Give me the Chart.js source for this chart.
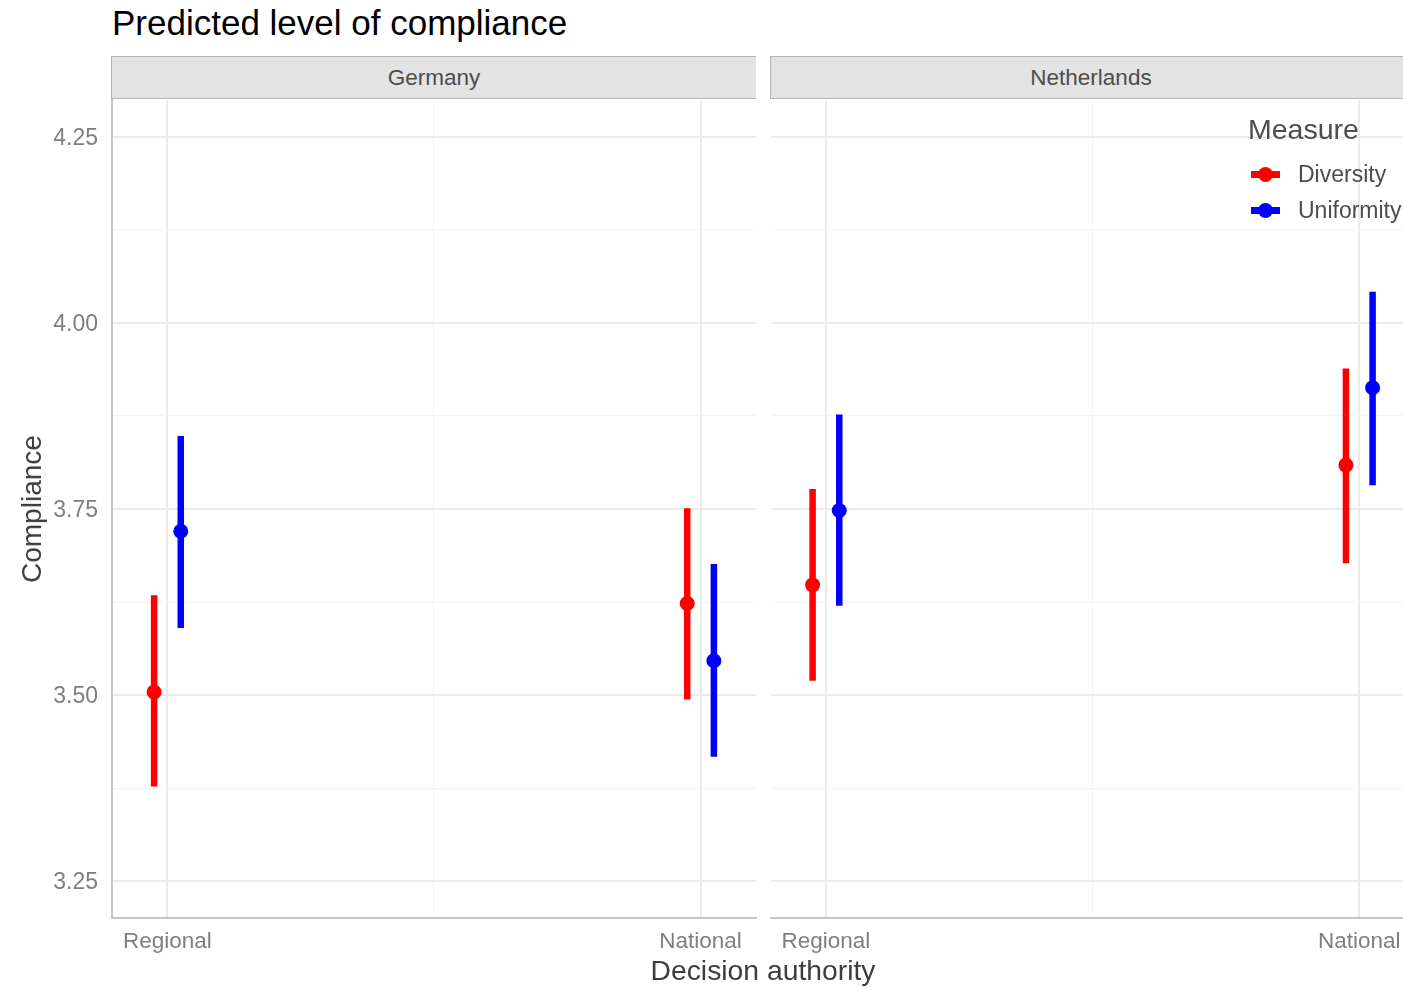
<!DOCTYPE html>
<html>
<head>
<meta charset="utf-8">
<script src="https://cdn.jsdelivr.net/npm/chart.js@4.4.1/dist/chart.umd.min.js"></script>
<style>
  body { margin: 0; background: #fff; overflow: hidden; width: 1403px; height: 988px; position: relative;
         font-family: "Liberation Sans", Arial, sans-serif; }
  canvas { position: absolute; top: 0; }
  .txt { position: absolute; white-space: nowrap; }
  .strip { position: absolute; top: 56px; height: 41px; background: #e3e3e3; border: 1.5px solid #b5b5b5;
           display: flex; align-items: center; justify-content: center; font-size: 22.5px; color: #4d4d4d; box-sizing: content-box; }
  .key-line { position: absolute; height: 7px; width: 29px; }
  .key-dot { position: absolute; width: 15px; height: 15px; border-radius: 50%; }
</style>
</head>
<body>
<div class="txt" style="left:112px; top:5px; font-size:35px; line-height:35px; color:#000;">Predicted level of compliance</div>
<div class="strip" style="left:111px; width:644px; border-right:none;">Germany</div>
<div class="strip" style="left:770px; width:640px;">Netherlands</div>

<canvas id="chartGermany" width="760" height="988" style="left:0"></canvas>
<canvas id="chartNetherlands" width="657" height="988" style="left:766px"></canvas>

<div class="txt" style="left:32px; top:509px; font-size:28px; line-height:28px; color:#3d3d3d; transform: translate(-50%,-50%) rotate(-90deg);">Compliance</div>
<div class="txt" style="left:763px; top:970px; font-size:28.3px; line-height:28px; color:#3d3d3d; transform: translate(-50%,-50%);">Decision authority</div>

<div id="legend"></div>

<script>
// values
const authorities = ['Regional', 'National'];
const measures = ['Diversity', 'Uniformity'];
const measureColors = ['#ff0000', '#0000ff'];

const germanyDiversity = [3.504, 3.623];
const germanyDiversityLow = [3.377, 3.494];
const germanyDiversityHigh = [3.634, 3.751];
const germanyUniformity = [3.720, 3.546];
const germanyUniformityLow = [3.590, 3.417];
const germanyUniformityHigh = [3.848, 3.676];

const netherlandsDiversity = [3.648, 3.809];
const netherlandsDiversityLow = [3.519, 3.677];
const netherlandsDiversityHigh = [3.777, 3.939];
const netherlandsUniformity = [3.748, 3.913];
const netherlandsUniformityLow = [3.620, 3.782];
const netherlandsUniformityHigh = [3.877, 4.042];

const yTicks = [3.25, 3.5, 3.75, 4.0, 4.25];
const yMinor = [3.375, 3.625, 3.875, 4.125];

Chart.defaults.font.family = '"Liberation Sans", Arial, sans-serif';

const dodge = [-0.025, 0.025];
const majorGrid = '#ebebeb';
const minorGrid = '#f4f4f4';

function isMajor(v, list) {
  return list.some(t => Math.abs(t - v) < 1e-6);
}

function buildDatasets(series) {
  // series: [{est, low, high}] per measure
  const sets = [];
  series.forEach((s, m) => {
    const pts = [], bars = [];
    authorities.forEach((a, i) => {
      const x = i + dodge[m];
      pts.push({x: x, y: s.est[i]});
      if (i > 0) bars.push({x: x, y: null});
      bars.push({x: x, y: s.low[i]});
      bars.push({x: x, y: s.high[i]});
    });
    sets.push({
      label: measures[m] + ' range',
      data: bars,
      showLine: true,
      spanGaps: false,
      borderColor: measureColors[m],
      borderWidth: 6.5,
      borderCapStyle: 'butt',
      pointRadius: 0,
      order: 2
    });
    sets.push({
      label: measures[m],
      data: pts,
      backgroundColor: measureColors[m],
      borderWidth: 0,
      pointRadius: 7.5,
      order: 1
    });
  });
  return sets;
}

function makeOptions(opt) {
  return {
    responsive: false,
    animation: false,
    devicePixelRatio: 1,
    layout: { autoPadding: false, padding: { left: opt.padLeft, right: opt.padRight, top: 100, bottom: 0 } },
    plugins: { legend: { display: false }, title: { display: false }, tooltip: { enabled: false } },
    scales: {
      x: {
        type: 'linear',
        min: opt.xMin,
        max: opt.xMax,
        afterBuildTicks: s => { s.ticks = [0, 0.5, 1].map(v => ({value: v})); },
        afterFit: s => { s.height = 70; },
        grid: {
          drawTicks: false,
          color: c => (c.tick && c.tick.value === 0.5) ? minorGrid : majorGrid,
          lineWidth: c => (c.tick && c.tick.value === 0.5) ? 1 : 2
        },
        border: { display: true, color: '#c6c6c6', width: 2 },
        ticks: {
          padding: 10,
          color: '#7f7f7f',
          font: { size: 22.5 },
          maxRotation: 0,
          callback: v => v === 0 ? authorities[0] : (v === 1 ? authorities[1] : '')
        }
      },
      y: {
        type: 'linear',
        min: 3.2003,
        max: 4.2997,
        afterBuildTicks: s => {
          s.ticks = yTicks.concat(yMinor).sort((a, b) => a - b).map(v => ({value: v}));
        },
        afterFit: s => { s.width = opt.yWidth; },
        grid: {
          drawTicks: false,
          color: c => (c.tick && isMajor(c.tick.value, yTicks)) ? majorGrid : minorGrid,
          lineWidth: c => (c.tick && isMajor(c.tick.value, yTicks)) ? 2 : 1
        },
        border: { display: opt.yBorder, color: '#c6c6c6', width: 2 },
        ticks: {
          display: opt.yLabels,
          padding: 14,
          labelOffset: 2,
          color: '#7f7f7f',
          font: { size: 23 },
          autoSkip: false,
          callback: v => isMajor(v, yTicks) ? v.toFixed(2) : ''
        }
      }
    }
  };
}

new Chart(document.getElementById('chartGermany'), {
  type: 'scatter',
  data: {
    datasets: buildDatasets([
      {est: germanyDiversity, low: germanyDiversityLow, high: germanyDiversityHigh},
      {est: germanyUniformity, low: germanyUniformityLow, high: germanyUniformityHigh}
    ])
  },
  options: makeOptions({padLeft: 0, padRight: 4, xMin: -0.104, xMax: 1.104, yWidth: 112, yBorder: true, yLabels: true})
});

new Chart(document.getElementById('chartNetherlands'), {
  type: 'scatter',
  data: {
    datasets: buildDatasets([
      {est: netherlandsDiversity, low: netherlandsDiversityLow, high: netherlandsDiversityHigh},
      {est: netherlandsUniformity, low: netherlandsUniformityLow, high: netherlandsUniformityHigh}
    ])
  },
  options: makeOptions({padLeft: 5, padRight: 20, xMin: -0.103, xMax: 1.082, yWidth: 0, yBorder: false, yLabels: false})
});

// legend (sits inside the Netherlands panel, as in the source)
const legend = document.getElementById('legend');
let html = '<div class="txt" style="left:1248px; top:115px; font-size:28.5px; line-height:28px; color:#4d4d4d;">Measure</div>';
measures.forEach((m, i) => {
  const cy = 174 + i * 36;
  html += '<div class="key-line" style="left:1251px; top:' + (cy - 3.5) + 'px; background:' + measureColors[i] + ';"></div>';
  html += '<div class="key-dot" style="left:1258px; top:' + (cy - 7.5) + 'px; background:' + measureColors[i] + ';"></div>';
  html += '<div class="txt" style="left:1298px; top:' + (cy - 11.5) + 'px; font-size:23px; line-height:23px; color:#4d4d4d;">' + m + '</div>';
});
legend.innerHTML = html;
</script>
</body>
</html>
